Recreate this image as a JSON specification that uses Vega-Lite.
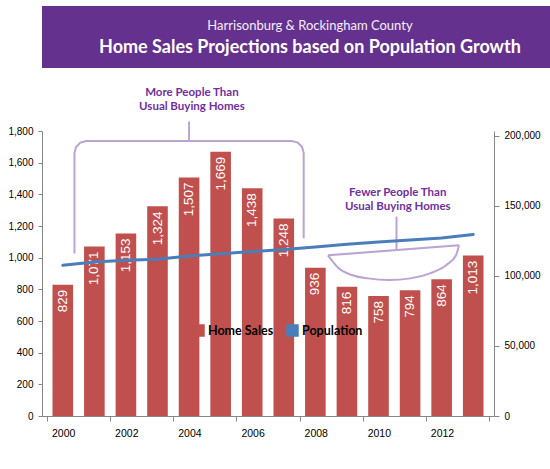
{
  "$schema": "https://vega.github.io/schema/vega-lite/v6.json",
  "padding": {"left": 7, "top": 6, "right": 5, "bottom": 5},
  "columns": 1,
  "align": "none",
  "spacing": 18,
  "datasets": {
    "notes": [
      {"kind": "path", "part": "L", "i": 0, "x": 2000.37, "y": 1027},
      {"kind": "path", "part": "L", "i": 1, "x": 2000.37, "y": 1661},
      {"kind": "path", "part": "L", "i": 2, "x": 2000.42, "y": 1699},
      {"kind": "path", "part": "L", "i": 3, "x": 2000.556, "y": 1727},
      {"kind": "path", "part": "L", "i": 4, "x": 2000.742, "y": 1737},
      {"kind": "path", "part": "L", "i": 5, "x": 2007.258, "y": 1737},
      {"kind": "path", "part": "L", "i": 6, "x": 2007.444, "y": 1727},
      {"kind": "path", "part": "L", "i": 7, "x": 2007.58, "y": 1699},
      {"kind": "path", "part": "L", "i": 8, "x": 2007.63, "y": 1661},
      {"kind": "path", "part": "L", "i": 9, "x": 2007.63, "y": 1122},
      {"kind": "path", "part": "S1", "i": 0, "x": 2004.0, "y": 1860},
      {"kind": "path", "part": "S1", "i": 1, "x": 2004.0, "y": 1737},
      {"kind": "path", "part": "S2", "i": 0, "x": 2010.57, "y": 1259},
      {"kind": "path", "part": "S2", "i": 1, "x": 2010.57, "y": 1048},
      {"kind": "path", "part": "R", "i": 0, "x": 2008.40, "y": 1014.5},
      {"kind": "path", "part": "R", "i": 1, "x": 2012.55, "y": 1077.7},
      {"kind": "arc", "part": "B", "i": 0, "x": 2008.40, "y": 1014.5},
      {"kind": "arc", "part": "B", "i": 1, "x": 2008.74, "y": 932.4},
      {"kind": "arc", "part": "B", "i": 2, "x": 2009.15, "y": 890.7},
      {"kind": "arc", "part": "B", "i": 3, "x": 2009.67, "y": 869.2},
      {"kind": "arc", "part": "B", "i": 4, "x": 2010.34, "y": 859.1},
      {"kind": "arc", "part": "B", "i": 5, "x": 2011.01, "y": 869.2},
      {"kind": "arc", "part": "B", "i": 6, "x": 2011.63, "y": 900.8},
      {"kind": "arc", "part": "B", "i": 7, "x": 2012.15, "y": 953.9},
      {"kind": "arc", "part": "B", "i": 8, "x": 2012.46, "y": 1017},
      {"kind": "arc", "part": "B", "i": 9, "x": 2012.55, "y": 1077.7},
      {"kind": "label", "x": 2004.09, "y": 2042, "text": "More People Than"},
      {"kind": "label", "x": 2004.09, "y": 1951, "text": "Usual Buying Homes"},
      {"kind": "label", "x": 2010.61, "y": 1411, "text": "Fewer People Than"},
      {"kind": "label", "x": 2010.61, "y": 1320, "text": "Usual Buying Homes"}
    ]
  },
  "concat": [
    {
      "width": 536,
      "height": 62,
      "view": {"fill": "#65318f", "stroke": null},
      "data": {
        "values": [
          {"line": "sub", "text": "Harrisonburg  & Rockingham  County"},
          {"line": "main", "text": "Home Sales Projections based on Population Growth"}
        ]
      },
      "encoding": {
        "x": {"datum": 0, "type": "quantitative", "axis": null, "scale": {"domain": [-1, 1]}},
        "y": {"field": "line", "type": "ordinal", "axis": null,
              "scale": {"type": "point", "domain": ["sub", "main"], "padding": 0.976}},
        "text": {"field": "text"}
      },
      "layer": [
        {
          "transform": [{"filter": "datum.line === 'sub'"}],
          "mark": {"type": "text", "font": "Lato", "fontSize": 13, "color": "#f6eef8"}
        },
        {
          "transform": [{"filter": "datum.line === 'main'"}],
          "mark": {"type": "text", "font": "Lato", "fontSize": 18, "fontWeight": "bold", "color": "white"}
        }
      ]
    },
    {
      "width": 452,
      "height": 285,
      "data": {
        "values": [
          {"year": 2000, "sales": 829, "pop": 107650},
          {"year": 2001, "sales": 1071, "pop": 110000},
          {"year": 2002, "sales": 1153, "pop": 111200},
          {"year": 2003, "sales": 1324, "pop": 111900},
          {"year": 2004, "sales": 1507, "pop": 114300},
          {"year": 2005, "sales": 1669, "pop": 115900},
          {"year": 2006, "sales": 1438, "pop": 117400},
          {"year": 2007, "sales": 1248, "pop": 118800},
          {"year": 2008, "sales": 936, "pop": 120700},
          {"year": 2009, "sales": 816, "pop": 122600},
          {"year": 2010, "sales": 758, "pop": 124300},
          {"year": 2011, "sales": 794, "pop": 125700},
          {"year": 2012, "sales": 864, "pop": 127100},
          {"year": 2013, "sales": 1013, "pop": 129600}
        ]
      },
      "layer": [
        {
          "mark": {"type": "bar", "size": 20.6},
          "encoding": {
            "x": {"field": "year", "type": "quantitative",
                  "scale": {"domain": [1999.5, 2013.5], "nice": false, "zero": false},
                  "axis": {"title": null,
                           "values": [1999.5, 2000.5, 2001.5, 2002.5, 2003.5, 2004.5, 2005.5, 2006.5, 2007.5, 2008.5, 2009.5, 2010.5, 2011.5, 2012.5, 2013.5],
                           "labelExpr": "datum.value > 2013 ? '' : format(datum.value + 0.5, 'd')",
                           "labelOffset": 16.14, "labelFlush": false, "labelOverlap": false, "labelSeparation": -50,
                           "tickSize": 5, "labelPadding": 7, "labelFontSize": 10.5}},
            "y": {"field": "sales", "type": "quantitative",
                  "scale": {"domain": [0, 1800], "nice": false},
                  "axis": {"title": null, "values": [0, 200, 400, 600, 800, 1000, 1200, 1400, 1600, 1800],
                           "format": ",.0f", "tickSize": 4, "labelPadding": 5}},
            "color": {
              "datum": "Home Sales", "type": "nominal",
              "scale": {"domain": ["Home Sales", "Population"], "range": ["#C0504D", "#4A7EBB"]},
              "legend": {
                "title": null, "orient": "none", "legendX": 150, "legendY": 318,
                "direction": "horizontal", "symbolType": "square",
                "labelFont": "Lato", "labelFontWeight": "bold", "labelFontSize": 12.5,
                "labelColor": "black", "labelOffset": 3, "columnPadding": 10,
                "symbolSize": 120, "symbolOpacity": 1
              }
            }
          }
        },
        {
          "mark": {"type": "text", "angle": 270, "align": "right", "baseline": "middle", "dx": -5,
                   "fill": "white", "font": "Liberation Sans", "fontSize": 13.5},
          "encoding": {
            "x": {"field": "year", "type": "quantitative"},
            "y": {"field": "sales", "type": "quantitative", "scale": {"domain": [0, 1800], "nice": false}, "axis": null},
            "text": {"field": "sales", "type": "quantitative", "format": ","}
          }
        },
        {
          "data": {"name": "notes"},
          "transform": [{"filter": "datum.kind === 'path'"}],
          "mark": {"type": "line", "stroke": "#BAA4D3", "strokeWidth": 2},
          "encoding": {
            "x": {"field": "x", "type": "quantitative"},
            "y": {"field": "y", "type": "quantitative", "scale": {"domain": [0, 1800], "nice": false}, "axis": null},
            "detail": {"field": "part"},
            "order": {"field": "i", "type": "quantitative"}
          }
        },
        {
          "data": {"name": "notes"},
          "transform": [{"filter": "datum.kind === 'arc'"}],
          "mark": {"type": "line", "stroke": "#BAA4D3", "strokeWidth": 2, "interpolate": "monotone"},
          "encoding": {
            "x": {"field": "x", "type": "quantitative"},
            "y": {"field": "y", "type": "quantitative", "scale": {"domain": [0, 1800], "nice": false}, "axis": null},
            "order": {"field": "i", "type": "quantitative"}
          }
        },
        {
          "data": {"name": "notes"},
          "transform": [{"filter": "datum.kind === 'label'"}],
          "mark": {"type": "text", "font": "Lato", "fontWeight": "bold", "fontSize": 11.5, "color": "#7030A0"},
          "encoding": {
            "x": {"field": "x", "type": "quantitative"},
            "y": {"field": "y", "type": "quantitative", "scale": {"domain": [0, 1800], "nice": false}, "axis": null},
            "text": {"field": "text"}
          }
        },
        {
          "mark": {"type": "line", "strokeWidth": 3, "strokeCap": "round"},
          "encoding": {
            "x": {"field": "year", "type": "quantitative"},
            "y": {"field": "pop", "type": "quantitative",
                  "scale": {"domain": [0, 203500], "nice": false},
                  "axis": {"title": null, "orient": "right", "values": [0, 50000, 100000, 150000, 200000],
                           "format": ",.0f", "tickSize": 5, "labelPadding": 5}},
            "color": {"datum": "Population", "type": "nominal"}
          }
        }
      ],
      "resolve": {"scale": {"y": "independent"}}
    }
  ],
  "config": {
    "view": {"stroke": null},
    "axis": {
      "grid": false,
      "domainColor": "#868686",
      "tickColor": "#868686",
      "labelFont": "Liberation Sans",
      "labelFontSize": 10,
      "labelColor": "black"
    }
  }
}
